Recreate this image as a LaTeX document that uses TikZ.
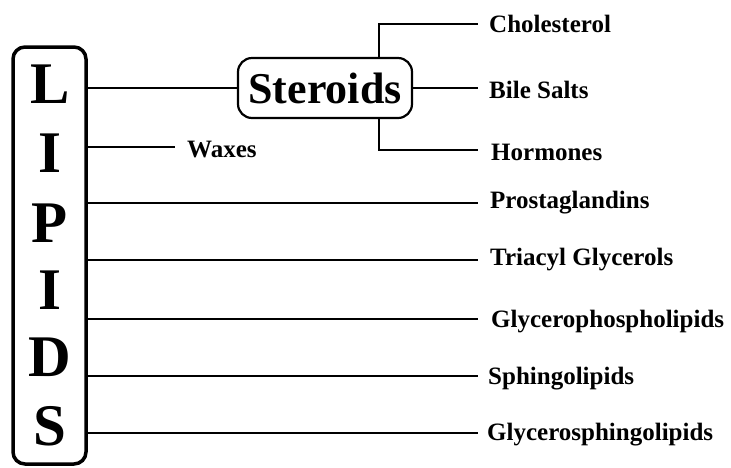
\documentclass[tikz,border=0pt]{standalone}
\usepackage{fontspec}
\setmainfont{Liberation Serif}
\begin{document}
\begin{tikzpicture}[x=1pt,y=-1pt,
  lbl/.style={font=\bfseries\fontsize{25}{28}\selectfont, anchor=west, inner sep=0pt, yshift=-2pt},
  big/.style={font=\bfseries\fontsize{59}{60}\selectfont, inner sep=0pt},
  conn/.style={line width=2pt}]
\useasboundingbox (0,0) rectangle (731,467);
% LIPIDS box
\draw[line width=3.5pt, rounded corners=12pt] (13,47) rectangle (86,464);
\node[big] (L1) at (50,84) {L};
\node[big] (L2) at (50,153) {I};
\node[big] (L3) at (50,223) {P};
\node[big] (L4) at (50,290) {I};
\node[big] (L5) at (50,357) {D};
\node[big] (L6) at (50,426) {S};
\coordinate (b1) at (86,88);
\coordinate (b2) at (86,147);
\coordinate (b3) at (86,203);
\coordinate (b4) at (86,260);
\coordinate (b5) at (86,319);
\coordinate (b6) at (86,376);
\coordinate (b7) at (86,433);
% Steroids
\node[draw, line width=2.2pt, rounded corners=14pt, minimum width=174pt, minimum height=60pt, inner sep=0pt,
  font=\bfseries\fontsize{44}{46}\selectfont] (st) at (325,88) {Steroids};
\draw[conn] (b1) -- (st.west);
\node[lbl] (chol) at (489,22) {Cholesterol};
\node[lbl] (bile) at (489,88) {Bile Salts};
\node[lbl] (horm) at (491,150) {Hormones};
\coordinate (ce) at (478,24);
\coordinate (he) at (478,150);
\draw[conn] (st.east) -- (478,88);
\draw[conn] (379,57) |- (ce);
\draw[conn] (379,119) |- (he);
% Waxes
\node[lbl] (wax) at (187,147) {Waxes};
\draw[conn] (b2) -- (175,147);
% others
\node[lbl] (pro) at (490,201) {Prostaglandins};
\node[lbl] (tri) at (490,258) {Triacyl Glycerols};
\node[lbl] (gpl) at (491,320) {Glycerophospholipids};
\node[lbl] (spl) at (488,377) {Sphingolipids};
\node[lbl] (gsl) at (487,433) {Glycerosphingolipids};
\draw[conn] (b3) -- (478,203);
\draw[conn] (b4) -- (478,260);
\draw[conn] (b5) -- (478,319);
\draw[conn] (b6) -- (478,376);
\draw[conn] (b7) -- (478,433);
\end{tikzpicture}
\end{document}
